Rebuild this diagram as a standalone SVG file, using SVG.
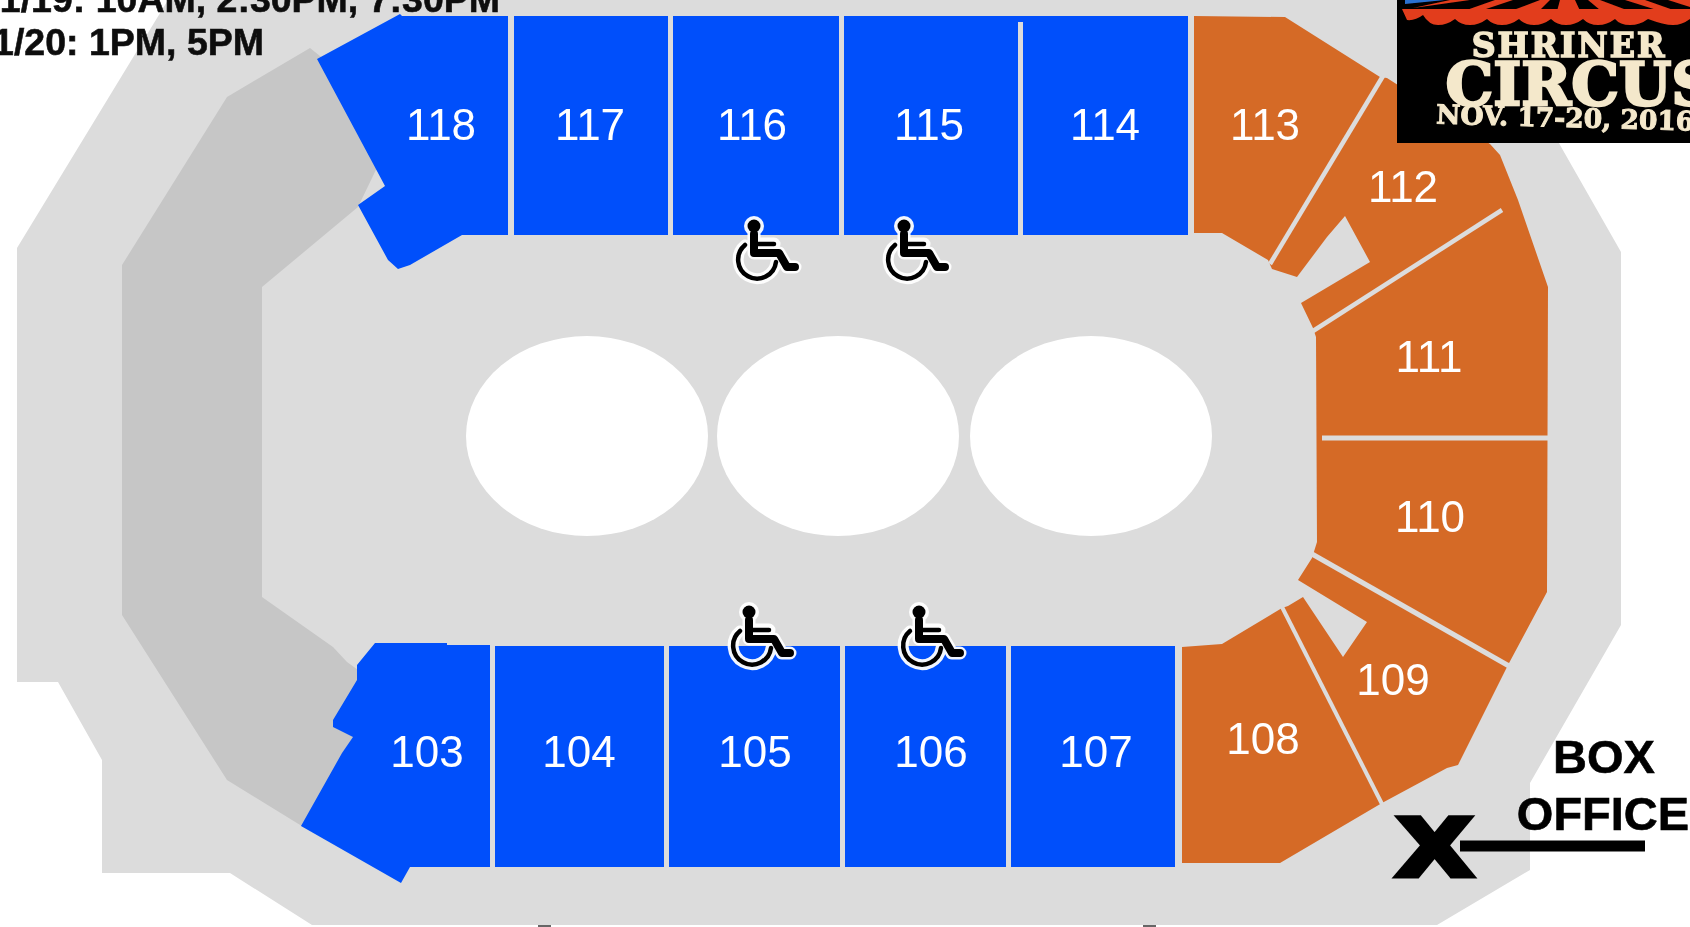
<svg xmlns="http://www.w3.org/2000/svg" width="1690" height="927" viewBox="0 0 1690 927">
<style>
.bl{fill:#0050fb}
.or{fill:#d56a27}
.lb{font-family:"Liberation Sans",Arial,sans-serif;font-size:44px;fill:#fff;text-anchor:middle}
.div{stroke:#dcdcdc;fill:none}
.hd{font-family:"Liberation Sans",Arial,sans-serif;font-weight:700;font-size:37.5px;fill:#111;stroke:#111;stroke-width:.6px;text-anchor:end}
.bo{font-family:"Liberation Sans",Arial,sans-serif;font-weight:700;font-size:47px;fill:#000;stroke:#000;stroke-width:.6px;text-anchor:middle}
.lg{font-family:"DejaVu Serif",serif;font-weight:700;fill:#f4e8cb;stroke:#f4e8cb;text-anchor:middle}
.rd{fill:#e23c1c}
</style>
<defs>
<filter id="soft" filterUnits="userSpaceOnUse" x="-20" y="-20" width="1730" height="967"><feGaussianBlur stdDeviation="0.7"/></filter>
<g id="wc" fill="none" stroke-linejoin="round" stroke-linecap="round">
<g stroke="#fff" opacity="0.95">
<circle cx="0" cy="0" r="10" fill="#fff" stroke="none"/>
<path d="M0 8V27H25L33 41H41M0 18H20" stroke-width="13"/>
<path d="M-9 19A19 19 0 1 0 22 36" stroke-width="11"/>
</g>
<circle cx="0" cy="0" r="6.5" fill="#000"/>
<path d="M0 8V27H25L33 41H41" stroke="#000" stroke-width="8"/>
<path d="M0 18H20" stroke="#000" stroke-width="4.5"/>
<path d="M-9 19A19 19 0 1 0 22 36" stroke="#000" stroke-width="4.5"/>
</g>
</defs>
<rect width="1690" height="927" fill="#fff"/>
<g filter="url(#soft)">
<g id="venue">
<polygon id="floor" fill="#dcdcdc" points="168,0 1490,0 1560,145 1621,252 1621,625 1530,783 1530,870 1437,925 312,925 230,873 102,873 102,760 58,682 17,682 17,248"/>
<polygon id="left-band" fill="#c6c6c6" points="310,48 227,97 122,265 122,615 227,780 305,828 400,700 347,662 333,647 262,597 262,287 358,207 400,120"/>
<ellipse cx="587" cy="436" rx="121" ry="100" fill="#fff"/>
<ellipse cx="838" cy="436" rx="121" ry="100" fill="#fff"/>
<ellipse cx="1091" cy="436" rx="121" ry="100" fill="#fff"/>
<rect x="538" y="925" width="13" height="2" fill="#666"/>
<rect x="1143" y="925" width="13" height="2" fill="#666"/>
</g>
<g id="sec-118"><polygon class="bl" points="317,59 400,14 402,16 508,16 508,235 462,235 410,265 398,269 388,260 358,205 385,186"/><text class="lb" x="441" y="140">118</text></g>
<g id="sec-117"><rect class="bl" x="514" y="16" width="154" height="219"/><text class="lb" x="590" y="140">117</text></g>
<g id="sec-116"><rect class="bl" x="673" y="16" width="166" height="219"/><text class="lb" x="752" y="140">116</text></g>
<g id="sec-115"><polygon class="bl" points="844,16 1188,16 1188,235 1023,235 1023,22 1018,22 1018,235 844,235"/><text class="lb" x="929" y="140">115</text></g>
<g id="sec-114"><text class="lb" x="1105" y="140">114</text></g>
<g id="sec-103"><polygon class="bl" points="375,643 447,643 447,645 490,645 490,867 410,867 401,883 301,826 342,753 353,737 333,727 333,720 357,680 357,665"/><text class="lb" x="427" y="767">103</text></g>
<g id="sec-104"><rect class="bl" x="495" y="646" width="169" height="221"/><text class="lb" x="579" y="767">104</text></g>
<g id="sec-105"><rect class="bl" x="669" y="646" width="171" height="221"/><text class="lb" x="755" y="767">105</text></g>
<g id="sec-106"><rect class="bl" x="845" y="646" width="161" height="221"/><text class="lb" x="931" y="767">106</text></g>
<g id="sec-107"><rect class="bl" x="1011" y="646" width="164" height="221"/><text class="lb" x="1096" y="767">107</text></g>
<g id="orange-block"><polygon class="or" points="1194,16 1285,17 1380,77 1387,78 1490,144 1500,155 1518,200 1548,287 1547,592 1508,665 1458,765 1447,768 1382,803 1280,863 1182,863 1182,647 1222,644 1282,608 1288,606 1303,597 1343,657 1367,622 1298,580 1312,558 1317,542 1316,337 1313,328 1301,303 1370,262 1345,216 1327,237 1297,277 1272,269 1268,260 1222,233 1194,233"/></g>
<g id="connectors">
<path class="div" stroke-width="4.5" d="M1383,76L1270,264"/>
<path class="div" stroke-width="4.5" d="M1502,210L1313,331"/>
<path class="div" stroke-width="5" d="M1322,438H1548"/>
<path class="div" stroke-width="5" d="M1312,554L1509,666"/>
<path class="div" stroke-width="4" d="M1282,607L1382,804"/>
<path stroke="#000" stroke-width="11" fill="none" d="M1460,846H1645"/>
</g>
<g id="sec-113"><text class="lb" x="1265" y="140">113</text></g>
<g id="sec-112"><text class="lb" x="1403" y="202">112</text></g>
<g id="sec-111"><text class="lb" x="1429" y="372">111</text></g>
<g id="sec-110"><text class="lb" x="1430" y="532">110</text></g>
<g id="sec-109"><text class="lb" x="1393" y="695">109</text></g>
<g id="sec-108"><text class="lb" x="1263" y="754">108</text></g>
<g id="accessible">
<use href="#wc" x="754" y="226"/>
<use href="#wc" x="904" y="226"/>
<use href="#wc" x="749" y="612"/>
<use href="#wc" x="919" y="612"/>
</g>
<g id="dates">
<text class="hd" x="500" y="12">1/19: 10AM, 2:30PM, 7:30PM</text>
<text class="hd" x="264" y="55">1/20: 1PM, 5PM</text>
</g>
<g id="box-office">
<text class="bo" x="1604" y="773">BOX</text>
<text class="bo" x="1603" y="830">OFFICE</text>
<text x="0" y="0" transform="translate(1434.5,875) scale(1.3,1)" font-family="'Liberation Sans',Arial,sans-serif" font-weight="700" font-size="82" text-anchor="middle" fill="#000" stroke="#000" stroke-width="7">X</text>
</g>
<g id="logo">
<rect x="1397" y="0" width="293" height="143" fill="#000"/>
<polygon fill="#2b6fd0" points="1405,0 1445,0 1405,4"/>
<polygon class="rd" points="1560,0 1575,0 1582,15 1556,15"/>
<polygon class="rd" points="1550,0 1540,0 1500,15 1535,15"/>
<polygon class="rd" points="1513,0 1495,0 1458,13 1480,11"/>
<polygon class="rd" points="1450,0 1470,0 1413,8"/>
<polygon class="rd" points="1588,0 1600,0 1640,15 1606,15"/>
<polygon class="rd" points="1625,0 1645,0 1682,13 1660,11"/>
<polygon class="rd" points="1668,0 1690,0 1690,7"/>
<path class="rd" d="M1402,9H1690V19Q1682,25 1673,25T1648,19Q1640,25 1630,25T1615,19Q1607,25 1598,25T1583,19Q1575,25 1566,25T1551,19Q1543,25 1534,25T1519,19Q1511,25 1502,25T1487,19Q1479,25 1470,25T1455,19Q1447,25 1438,25T1423,15Q1415,21 1407,20Z"/>
<text class="lg" x="1569" y="57" font-size="33" letter-spacing="2" stroke-width="1.6">SHRINER</text>
<text class="lg" x="1580" y="105" font-size="60" stroke-width="2.5">CIRCUS</text>
<text class="lg" x="1565" y="127" font-size="26.5" stroke-width="1" transform="rotate(1.5 1565 127)">NOV. 17-20, 2016</text>
</g>
</g>
</svg>
